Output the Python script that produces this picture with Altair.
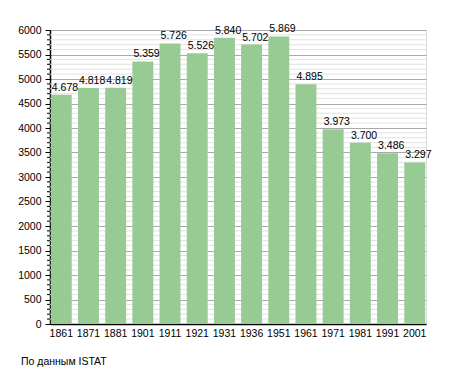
import altair as alt
import pandas as pd

years = ["1861", "1871", "1881", "1901", "1911", "1921", "1931", "1936",
         "1951", "1961", "1971", "1981", "1991", "2001"]
population = [4678, 4818, 4819, 5359, 5726, 5526, 5840, 5702,
              5869, 4895, 3973, 3700, 3486, 3297]
major_ticks = list(range(0, 6001, 500))
minor_ticks = [v for v in range(0, 6001, 100) if v % 500 != 0]
source_note = "По данным  ISTAT"

df = pd.DataFrame({
    "year": years,
    "pop": population,
    "label": [f"{v:,}".replace(",", ".") for v in population],
})
minor_df = pd.DataFrame({"v": minor_ticks})

FONT = "Liberation Sans"
BAR = "#98CB94"

yscale = alt.Scale(domain=[0, 6000], nice=False, zero=True)
xscale = alt.Scale(paddingInner=0.23, paddingOuter=0.03)
yaxis = alt.Axis(values=major_ticks, title=None, grid=True, format="d",
                 gridColor="#aaaaaa", domainColor="black", domainWidth=1.5,
                 tickColor="black", tickSize=5,
                 labelFontSize=10.5, labelPadding=4, labelColor="black",
                 labelFont=FONT)

minor_grid = alt.Chart(minor_df).mark_rule(color="#e2e2e2", strokeWidth=1).encode(
    y=alt.Y("v:Q", scale=yscale, axis=yaxis)
)
minor_tick_marks = alt.Chart(minor_df).mark_rule(color="black", strokeWidth=1).encode(
    y=alt.Y("v:Q", scale=yscale, axis=yaxis),
    x=alt.value(-3), x2=alt.value(0),
)

bars = alt.Chart(df).mark_bar(color=BAR).encode(
    x=alt.X("year:N", sort=None, scale=xscale,
            axis=alt.Axis(title=None, labelAngle=0, ticks=False, grid=False,
                          domainColor="black", domainWidth=1.5,
                          labelFontSize=10.5, labelPadding=4, labelColor="black",
                          labelFont=FONT)),
    y=alt.Y("pop:Q", scale=yscale, axis=yaxis),
)

labels = alt.Chart(df).mark_text(align="left", baseline="bottom", dx=1, dy=-2,
                                 fontSize=10.5, font=FONT, color="black").encode(
    x=alt.X("year:N", sort=None, scale=xscale, bandPosition=0),
    y=alt.Y("pop:Q", scale=yscale, axis=yaxis),
    text="label:N",
)

chart = alt.layer(minor_grid, minor_tick_marks, bars, labels).properties(
    width=376, height=294,
    autosize=alt.AutoSizeParams(type="none"),
    padding={"left": 42, "top": 22, "right": 21, "bottom": 49},
    title=alt.TitleParams(source_note, orient="bottom", anchor="start", frame="group",
                          dx=-29, offset=18, fontSize=10.5, fontWeight="normal",
                          font=FONT, color="black"),
).configure_view(stroke=None).configure(background="white")

chart.save("out.html", embed_options={"renderer": "svg", "actions": False})
